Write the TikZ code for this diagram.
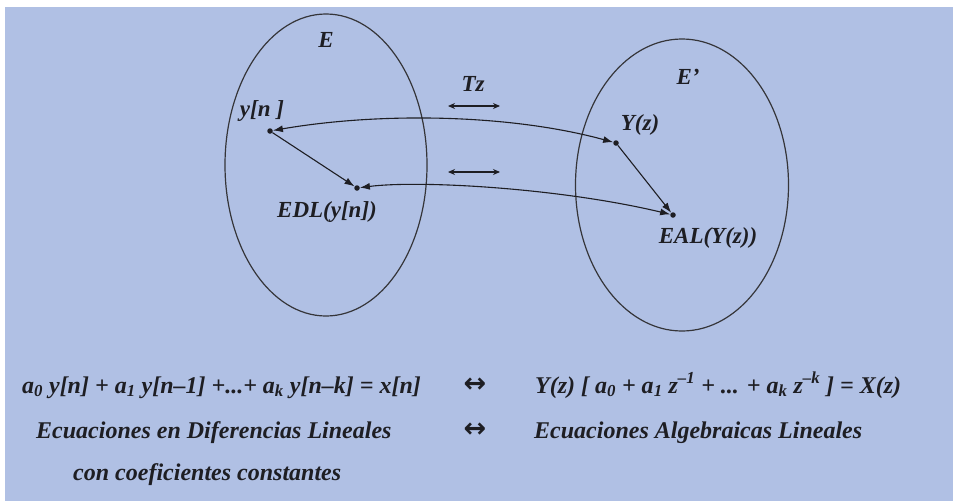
\documentclass[tikz,border=0pt]{standalone}
\usepackage{fontspec}
\setmainfont{Liberation Serif}
\newfontfamily\arrowfont{DejaVu Sans}
\usetikzlibrary{arrows.meta,shapes.geometric}
\definecolor{bgblue}{RGB}{176,192,228}
\definecolor{ink}{RGB}{30,30,35}
\tikzset{
  setshape/.style={draw=ink!90, line width=1.2pt, ellipse, inner sep=0pt},
  dot/.style={circle, fill=ink, inner sep=0pt, minimum size=5.5pt},
  lbl/.style={font=\fontsize{23}{26}\selectfont\bfseries\itshape, text=ink, inner sep=0pt},
  bottomtxt/.style={font=\fontsize{24}{27}\selectfont\bfseries\itshape, text=ink, inner sep=0pt, anchor=base west},
  conn/.style={draw=ink, line width=1.1pt},
  bigtip/.tip={Latex[length=10pt,width=7pt]},
  smalltip/.tip={Stealth[length=7pt,width=6pt]},
  eqarrow/.style={font=\arrowfont\fontsize{27}{28}\selectfont\bfseries, text=ink, inner sep=0pt}
}
\begin{document}
\begin{tikzpicture}[x=1pt,y=1pt]
\useasboundingbox (0,0) rectangle (953,-501);
\fill[white] (0,0) rectangle (953,-501);
\fill[bgblue] (5,-7) rectangle (953,-501);

% sets
\node[setshape, minimum width=202pt, minimum height=302pt] (E) at (326,-165) {};
\node[setshape, minimum width=213pt, minimum height=292pt] (Ep) at (682,-185) {};

% labels of sets
\node[lbl] (Elbl) at (326,-40) {E};
\node[lbl] (Eplbl) at (688,-77) {E’};
\node[lbl] (Tz) at (473,-84) {Tz};

% points
\node[dot] (yn) at (270,-131) {};
\node[dot] (edl) at (357,-188) {};
\node[dot] (Yz) at (616,-143) {};
\node[dot] (eal) at (673,-215) {};

\node[lbl] (ynlbl) at (262,-111) {y[n ]};
\node[lbl] (edllbl) at (327,-212) {EDL(y[n])};
\node[lbl] (Yzlbl) at (640,-125) {Y(z)};
\node[lbl] (eallbl) at (708,-238) {EAL(Y(z))};

% connectors
\draw[conn, {bigtip}-{bigtip}] (yn) .. controls (380,-112) and (510,-114) .. (Yz);
\draw[conn, {bigtip}-{bigtip}] (edl) .. controls (420,-180) and (560,-188) .. (eal);
\draw[conn, -{bigtip}] (yn) -- (edl);
\draw[conn, -{bigtip}] (Yz) -- (eal);

% small double arrows
\coordinate (ua) at (448,-106);
\coordinate (ub) at (500,-106);
\coordinate (la) at (448,-172);
\coordinate (lb) at (500,-172);
\draw[conn, {smalltip}-{smalltip}] (ua) -- (ub);
\draw[conn, {smalltip}-{smalltip}] (la) -- (lb);

% bottom text
\node[bottomtxt] (eqL) at (22,-393) {a\textsubscript{0} y[n] + a\textsubscript{1} y[n–1] +...+ a\textsubscript{k} y[n–k] = x[n]};
\node[eqarrow] (arr1) at (475,-385) {↔};
\node[bottomtxt] (eqR) at (535,-393) {Y(z) [ a\textsubscript{0} + a\textsubscript{1} z\textsuperscript{–1} + ... + a\textsubscript{k} z\textsuperscript{–k} ] = X(z)};
\node[bottomtxt] (edlt) at (36,-438) {Ecuaciones en Diferencias Lineales};
\node[eqarrow] (arr2) at (475,-430) {↔};
\node[bottomtxt] (ealt) at (534,-438) {Ecuaciones Algebraicas Lineales};
\node[bottomtxt] (cct) at (73,-480) {con coeficientes constantes};
\end{tikzpicture}
\end{document}
